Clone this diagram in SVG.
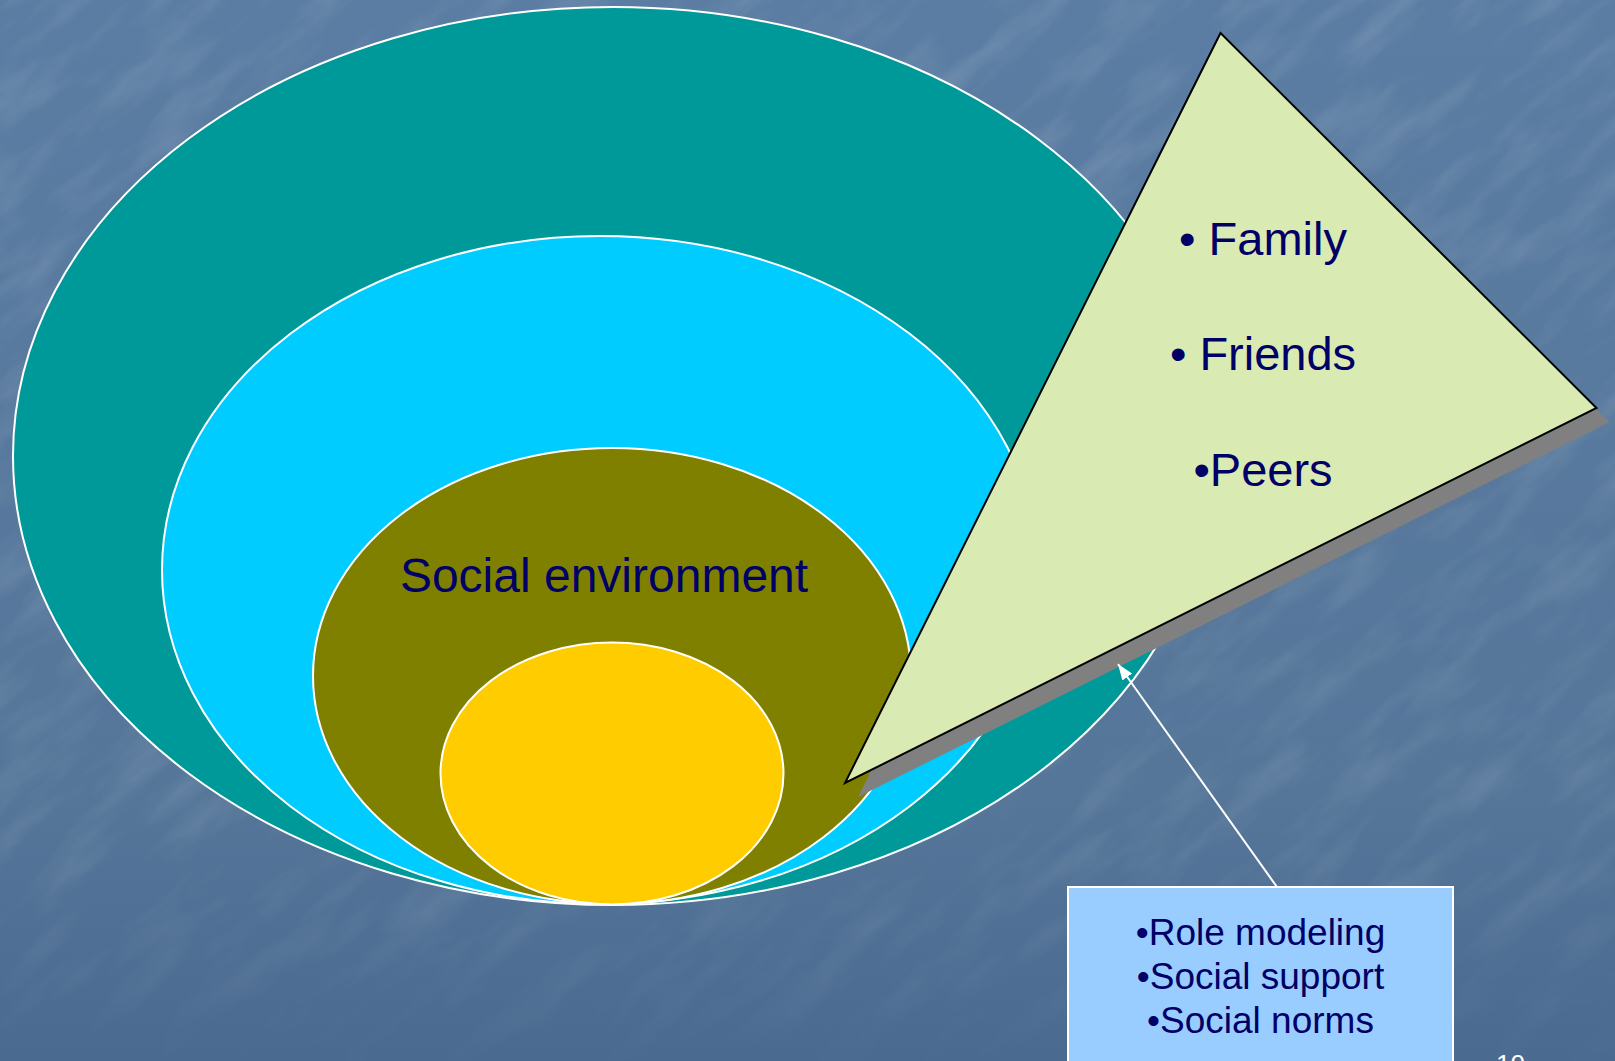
<svg xmlns="http://www.w3.org/2000/svg" width="1615" height="1061" viewBox="0 0 1615 1061">
  <defs>
    <style>
      .ring { stroke: #ffffff; stroke-width: 2; }
      .navy { fill: #000066; font-family: "Liberation Sans", Arial, sans-serif; }
      .tri-label { font-size: 47px; text-anchor: middle; }
      .box-label { font-size: 37px; text-anchor: middle; }
      .connector { stroke: #ffffff; stroke-width: 2; fill: none; }
    </style>
    <linearGradient id="bg" x1="0" y1="0" x2="0" y2="1">
      <stop offset="0" stop-color="#5b7da3"/>
      <stop offset="0.75" stop-color="#557699"/>
      <stop offset="1" stop-color="#4a6a90"/>
    </linearGradient>
    <linearGradient id="fade" x1="0" y1="0" x2="0" y2="1">
      <stop offset="0" stop-color="#fff" stop-opacity="1"/>
      <stop offset="0.8" stop-color="#fff" stop-opacity="0.8"/>
      <stop offset="1" stop-color="#fff" stop-opacity="0.1"/>
    </linearGradient>
    <mask id="fadeMask">
      <rect x="0" y="0" width="1615" height="1061" fill="url(#fade)"/>
    </mask>
    <!-- light mottled texture for the backdrop -->
    <filter id="streaks" x="0" y="0" width="100%" height="100%">
      <feTurbulence type="fractalNoise" baseFrequency="0.009 0.03" numOctaves="4" seed="11"/>
      <feColorMatrix type="matrix" values="0 0 0 0 1  0 0 0 0 1  0 0 0 0 1  1.8 0 0 0 -0.8"/>
    </filter>
    <marker id="arrow" markerUnits="userSpaceOnUse" markerWidth="16" markerHeight="12" refX="16" refY="6" orient="auto">
      <path d="M0,0 L16,6 L0,12 z" fill="#ffffff"/>
    </marker>
  </defs>

  <!-- backdrop -->
  <rect x="0" y="0" width="1615" height="1061" fill="url(#bg)"/>
  <g mask="url(#fadeMask)" opacity="0.14">
    <rect x="-600" y="-600" width="2800" height="2300" filter="url(#streaks)" transform="rotate(-40 807 530)"/>
  </g>

  <!-- nested rings -->
  <g id="ring-outer">
    <ellipse class="ring" cx="613" cy="456" rx="600" ry="449" fill="#009999"/>
  </g>
  <g id="ring-second">
    <ellipse class="ring" cx="600" cy="570" rx="438" ry="334" fill="#00ccff"/>
  </g>
  <g id="ring-social">
    <ellipse class="ring" cx="612" cy="676" rx="299" ry="228" fill="#808000"/>
    <text class="navy" x="604" y="592" font-size="48" text-anchor="middle">Social environment</text>
  </g>
  <g id="ring-core">
    <ellipse class="ring" cx="612" cy="773.5" rx="171.5" ry="131" fill="#ffcc00"/>
  </g>

  <!-- callout wedge -->
  <g id="wedge">
    <polygon points="1233.5,47 1609.5,422 858,797" fill="#808080"/>
    <polygon points="1220.5,33 1596.5,408 845,783" fill="#d9eab3" stroke="#000000" stroke-width="2" stroke-linejoin="miter"/>
    <text class="navy tri-label" x="1263" y="255">• Family</text>
    <text class="navy tri-label" x="1263" y="370">• Friends</text>
    <text class="navy tri-label" x="1263" y="486">•Peers</text>
  </g>

  <!-- connectors -->
  <g id="connectors">
    <line class="connector" x1="1277" y1="887" x2="1118" y2="664" marker-end="url(#arrow)"/>
  </g>

  <!-- mechanisms box -->
  <g id="mechanisms">
    <rect x="1068" y="887" width="385" height="190" fill="#99ccff" stroke="#ffffff" stroke-width="2"/>
    <text class="navy box-label" x="1260.5" y="945">•Role modeling</text>
    <text class="navy box-label" x="1260.5" y="989">•Social support</text>
    <text class="navy box-label" x="1260.5" y="1033">•Social norms</text>
  </g>

  <!-- slide number -->
  <g id="slide-number">
    <text x="1496" y="1073" font-family="Liberation Sans, Arial, sans-serif" font-size="26" fill="#ffffff">10</text>
  </g>
</svg>
